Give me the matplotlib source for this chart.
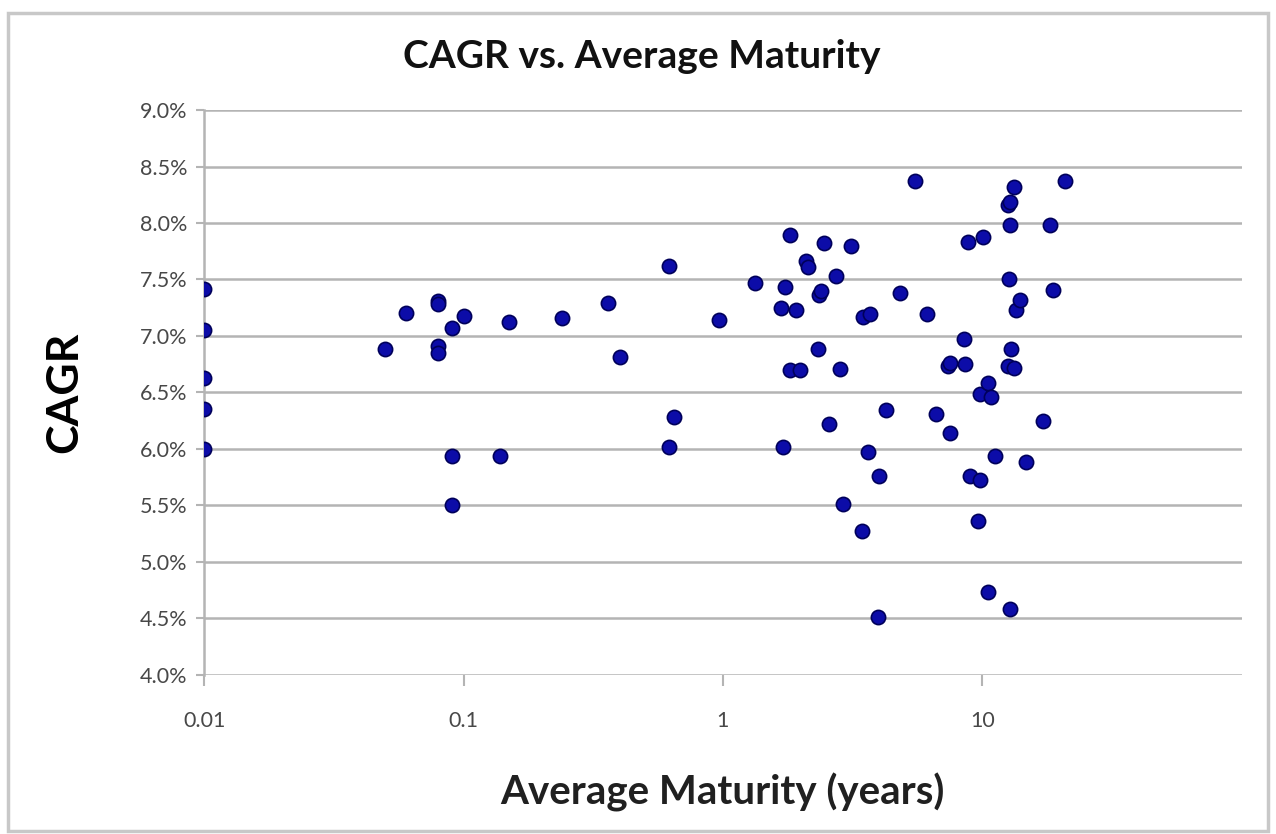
import matplotlib
matplotlib.use('Agg')
import matplotlib.pyplot as plt
from matplotlib.patches import Rectangle
from matplotlib.ticker import FixedLocator, FixedFormatter

# Données : maturité moyenne (années) et CAGR (%)
maturity = [
    0.01, 0.01, 0.01, 0.01, 0.01,
    0.05, 0.06, 0.08, 0.08, 0.08, 0.08, 0.09, 0.09, 0.09, 0.1,
    0.138, 0.15, 0.24, 0.36, 0.40, 0.62, 0.62, 0.65, 0.97,
    1.33, 1.71, 1.73, 1.68, 1.81, 1.81, 1.92, 1.98, 2.09, 2.13,
    2.33, 2.35, 2.40, 2.46, 2.57, 2.74, 2.83, 2.91, 3.11, 3.44,
    3.47, 3.63, 3.68, 3.96, 4.00, 4.25, 4.81, 5.49, 6.15, 6.66,
    7.38, 7.50, 7.50, 8.51, 8.61, 8.81, 8.95, 9.63, 9.78, 9.78,
    10.1, 10.5, 10.5, 10.85, 11.2, 12.6, 12.8, 12.8, 12.7, 12.9,
    12.6, 13.3, 12.8, 13.3, 13.5, 14.0, 14.7, 17.1, 18.3, 18.7, 20.9,
]
cagr = [
    7.42, 7.05, 6.63, 6.35, 6.00,
    6.88, 7.20, 7.31, 7.28, 6.91, 6.85, 7.07, 5.94, 5.50, 7.18,
    5.94, 7.12, 7.16, 7.29, 6.81, 7.62, 6.02, 6.28, 7.14,
    7.47, 6.02, 7.43, 7.25, 7.89, 6.70, 7.23, 6.70, 7.66, 7.61,
    6.88, 7.36, 7.40, 7.82, 6.22, 7.53, 6.71, 5.51, 7.80, 5.27,
    7.17, 5.97, 7.19, 4.51, 5.76, 6.34, 7.38, 8.37, 7.19, 6.31,
    6.73, 6.76, 6.14, 6.97, 6.75, 7.83, 5.76, 5.36, 5.72, 6.49,
    7.88, 6.58, 4.73, 6.46, 5.94, 8.16, 8.19, 7.98, 7.50, 6.88,
    6.73, 6.72, 4.58, 8.32, 7.23, 7.32, 5.88, 6.25, 7.98, 7.41, 8.37,
]

x_ticks = [0.01, 0.1, 1, 10]
x_tick_labels = ['0.01', '0.1', '1', '10']
y_ticks = [4.0, 4.5, 5.0, 5.5, 6.0, 6.5, 7.0, 7.5, 8.0, 8.5, 9.0]

FONT = 'Lato'

fig = plt.figure(figsize=(12.76, 8.34), dpi=100)
fig.patch.set_facecolor('white')
ax = fig.add_axes([0.160, 0.191, 0.813, 0.677])

# cadre gris autour du graphique
fig.patches.append(Rectangle((0.006, 0.004), 0.988, 0.981, transform=fig.transFigure,
                             fill=False, edgecolor='#c8c8c8', linewidth=2.5))

ax.scatter(maturity, cagr, s=105, color='#0c0ca8', edgecolors='#00005a',
           linewidths=1.2, zorder=3)

ax.set_xscale('log')
ax.set_xlim(0.01, 100)
ax.set_ylim(4.0, 9.0)

ax.xaxis.set_major_locator(FixedLocator(x_ticks))
ax.xaxis.set_major_formatter(FixedFormatter(x_tick_labels))
ax.xaxis.set_minor_locator(FixedLocator([]))
ax.set_yticks(y_ticks)
ax.set_yticklabels([f'{v:.1f}%' for v in y_ticks])

ax.grid(True, axis='y', color='#b4b4b4', linewidth=1.8, zorder=0)
for s in ['top', 'right', 'bottom']:
    ax.spines[s].set_visible(False)
ax.spines['left'].set_color('#b4b4b4')
ax.spines['left'].set_linewidth(1.8)

ax.tick_params(axis='y', length=6, width=1.5, color='#b4b4b4', pad=6,
               labelsize=15.5, labelcolor='#484848')
ax.tick_params(axis='x', length=8, width=1.5, color='#b4b4b4', pad=18,
               labelsize=15.5, labelcolor='#484848')
for lab in ax.get_xticklabels() + ax.get_yticklabels():
    lab.set_fontfamily(FONT)

# titre centré sur la figure
fig.text(0.503, 0.932, 'CAGR vs. Average Maturity', fontsize=28, fontweight='bold',
         fontfamily=FONT, ha='center', va='center', color='#111111')
ax.set_ylabel('CAGR', fontsize=32, fontweight='bold', fontfamily=FONT, labelpad=40)
ax.set_xlabel('Average Maturity (years)', fontsize=29, fontweight='bold',
              fontfamily=FONT, labelpad=30, color='#202020')

fig.savefig('out.png', dpi=100, facecolor='white')
